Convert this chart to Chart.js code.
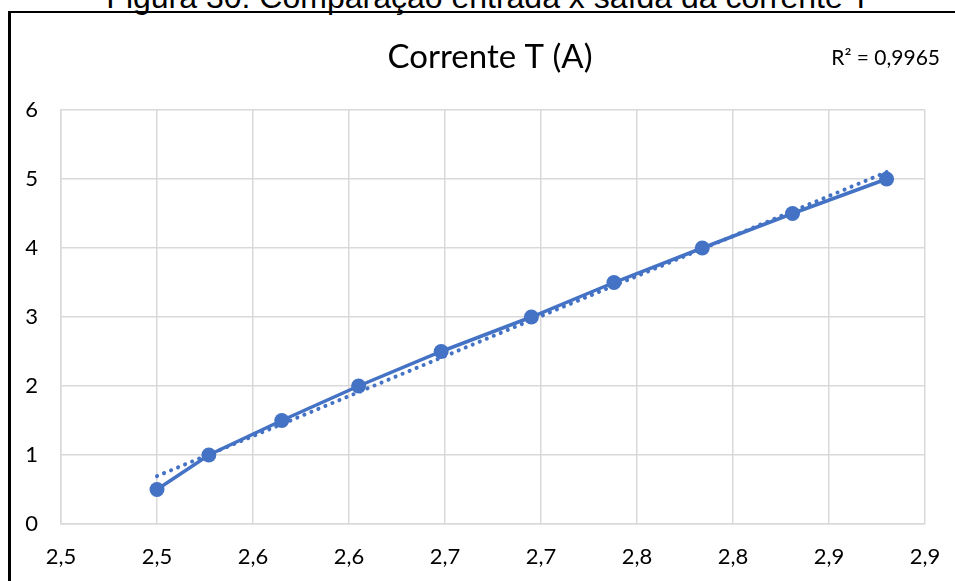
<!DOCTYPE html>
<html>
<head>
<meta charset="utf-8">
<script src="https://cdn.jsdelivr.net/npm/chart.js@4.4.1/dist/chart.umd.min.js"></script>
<style>
  body { margin: 0; background: #fff; width: 955px; height: 581px; overflow: hidden; position: relative; }
  .caption {
    position: absolute; left: 11px; top: -19px; width: 955px;
    text-align: center; font: 32px "Liberation Sans", Arial, sans-serif; line-height: 32px; color: #000;
    white-space: nowrap;
  }
  .frame {
    position: absolute; left: 8px; top: 11px; width: 980px; height: 620px;
    border-left: 3px solid #000; border-top: 2px solid #000;
  }
  #chart { position: absolute; left: 0; top: 0; }
</style>
</head>
<body>
<div class="caption">Figura 30: Comparação entrada x saída da corrente T</div>
<div class="frame"></div>
<canvas id="chart" width="955" height="581"></canvas>
<script>
// data
const entrada = [2.500, 2.527, 2.565, 2.605, 2.648, 2.695, 2.738, 2.784, 2.831, 2.880];
const saida = [0.5, 1, 1.5, 2, 2.5, 3, 3.5, 4, 4.5, 5];
const chartTitle = "Corrente T (A)";
const r2Label = "R² = 0,9965";

const blue = "#4472C4";
const gridColor = "#d9d9d9";

// linear trendline (least squares) like the Excel one
const n = entrada.length;
const mx = entrada.reduce((a, b) => a + b, 0) / n;
const my = saida.reduce((a, b) => a + b, 0) / n;
let sxy = 0, sxx = 0;
for (let i = 0; i < n; i++) {
  sxy += (entrada[i] - mx) * (saida[i] - my);
  sxx += (entrada[i] - mx) * (entrada[i] - mx);
}
const slope = sxy / sxx;
const icpt = my - slope * mx;
const trend = [entrada[0], entrada[n - 1]].map((x) => ({ x: x, y: icpt + slope * x }));

const points = entrada.map((x, i) => ({ x: x, y: saida[i] }));

const textPlugin = {
  id: "texts",
  afterDraw(chart) {
    const ctx = chart.ctx;
    ctx.save();
    ctx.fillStyle = "#000";
    ctx.textBaseline = "middle";
    ctx.font = "33px Lato";
    ctx.textAlign = "center";
    ctx.fillText(chartTitle, 490, 57);
    ctx.font = "21px Lato";
    ctx.textAlign = "right";
    ctx.fillText(r2Label, 940, 58);
    ctx.restore();
  },
};

new Chart(document.getElementById("chart"), {
  type: "scatter",
  plugins: [textPlugin],
  data: {
    datasets: [
      {
        data: trend,
        showLine: true,
        borderColor: blue,
        borderWidth: 4,
        borderDash: [0.1, 7.5],
        borderCapStyle: "round",
        pointRadius: 0,
        order: 0,
      },
      {
        data: points,
        showLine: true,
        borderColor: blue,
        backgroundColor: blue,
        borderWidth: 3.5,
        pointRadius: 7.5,
        pointBorderWidth: 0,
        order: 1,
      },
    ],
  },
  options: {
    responsive: false,
    animation: false,
    layout: { padding: { left: 0, right: 30, top: 110, bottom: 0 } },
    plugins: { legend: { display: false }, tooltip: { enabled: false }, title: { display: false } },
    scales: {
      x: {
        type: "linear",
        min: 2.45,
        max: 2.9,
        afterFit: (s) => {
          s.height = 57;
          s.paddingLeft = 0;
          s.paddingRight = 0;
        },
        grid: { color: gridColor, lineWidth: 1.5, drawTicks: false },
        border: { color: gridColor, width: 1.5 },
        ticks: {
          stepSize: 0.05,
          padding: 20,
          color: "#000",
          font: { family: "Lato", size: 22 },
          callback: (v) => (Math.round(v * 10 + 1e-6) / 10).toFixed(1).replace(".", ","),
        },
      },
      y: {
        min: 0,
        max: 6,
        afterFit: (s) => { s.width = 61; },
        grid: { color: gridColor, lineWidth: 1.5, drawTicks: false },
        border: { color: gridColor, width: 1.5 },
        ticks: {
          stepSize: 1,
          padding: 23,
          color: "#000",
          font: { family: "Lato", size: 22 },
        },
      },
    },
  },
});
</script>
</body>
</html>
